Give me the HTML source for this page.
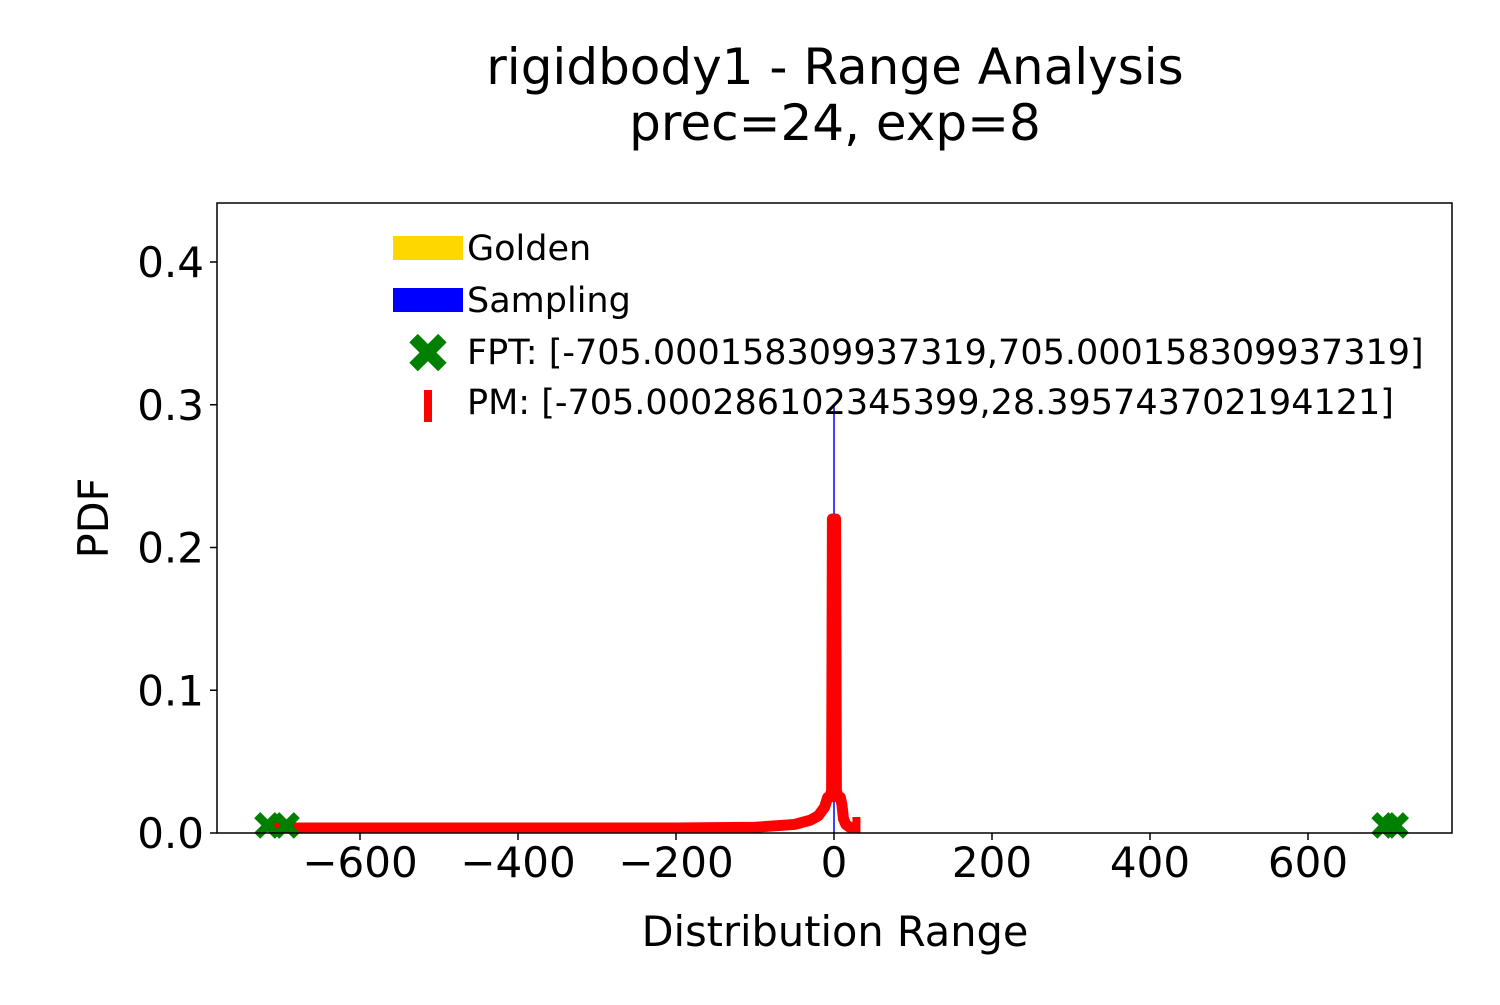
<!DOCTYPE html>
<html><head><meta charset="utf-8"><style>
body{margin:0;background:#fff}
svg text{font-family:"DejaVu Sans","Liberation Sans",sans-serif;fill:#000}
</style></head><body>
<svg width="1500" height="1000">
<text x="835" y="84" font-size="50" text-anchor="middle">rigidbody1 - Range Analysis</text>
<text x="835" y="140" font-size="50" text-anchor="middle">prec=24, exp=8</text>
<g id="plot"></g>
<rect x="217" y="203" width="1235" height="630" fill="none" stroke="#000" stroke-width="1.5"/>
<g id="axes"></g>
<text x="835" y="946" font-size="41.5" text-anchor="middle">Distribution Range</text>
<text transform="translate(108,518) rotate(-90)" font-size="41.5" text-anchor="middle">PDF</text>
<g>
<rect x="393" y="236" width="70" height="24" fill="#ffd700"/>
<text x="467" y="260" font-size="35">Golden</text>
<rect x="393" y="288" width="70" height="24" fill="#0000ff"/>
<text x="467" y="312" font-size="35">Sampling</text>
<text x="428" y="373" font-size="56" text-anchor="middle" style="fill:green">✖</text>
<text x="467" y="364" font-size="35">FPT: [-705.000158309937319,705.000158309937319]</text>
<rect x="424" y="390" width="8" height="32" fill="red"/>
<text x="467" y="414" font-size="35">PM: [-705.000286102345399,28.395743702194121]</text>
</g>
</svg>
<script>
const xTicks=[-600,-400,-200,0,200,400,600];
const yTicks=[0.0,0.1,0.2,0.3,0.4];
const pmX=[-705,-600,-400,-200,-100,-50,-30,-20,-12,-8,-5,-3,-2,-1,0,1,2,3,5,8,10,12,15,20,28];
const pmY=[0.002,0.002,0.0025,0.003,0.004,0.006,0.009,0.012,0.018,0.025,0.025,0.03,0.22,0.22,0.22,0.22,0.22,0.03,0.025,0.025,0.02,0.01,0.006,0.004,0.003];
const samplingPeakX=[0];
const samplingPeakY=[0.3];
const fptX=[-717,-693,697,711];
const fptY=[0.005,0.005,0.005,0.005];
const pmRangeX=[-705,28.4];
const ns="http://www.w3.org/2000/svg";
function sx(v){return 834+v*0.79;}
function sy(v){return 833-v*1427.5;}
const plot=document.getElementById('plot'),axes=document.getElementById('axes');
function mk(t,a,p){const e=document.createElementNS(ns,t);for(const k in a)e.setAttribute(k,a[k]);p.appendChild(e);return e;}
xTicks.forEach(v=>{
 const l=mk('line',{x1:sx(v),x2:sx(v),y1:833,y2:840,stroke:'#000','stroke-width':1.5},axes);
 
 
 const t=mk('text',{x:sx(v),y:877,'font-size':42,'text-anchor':'middle'},axes);
 t.textContent=(v<0?'\u2212'+(-v):v);
 
 
});
yTicks.forEach(v=>{
 const l=mk('line',{x1:210,x2:217,y1:sy(v),y2:sy(v),stroke:'#000','stroke-width':1.5},axes);
 
 
 const t=mk('text',{x:204,y:sy(v)+15,'font-size':42,'text-anchor':'end'},axes);
 t.textContent=v.toFixed(1);
 
 
});
samplingPeakX.forEach((x,i)=>{
 const l=mk('line',{x1:sx(x),x2:sx(x),y1:sy(0),y2:sy(samplingPeakY[i]),stroke:'#0000ff','stroke-width':1.5},plot);
 
 
});
const pts=pmX.map((x,i)=>sx(x)+','+Math.min(sy(pmY[i]),828)).join(' ');
const pl=mk('polyline',{points:pts,fill:'none',stroke:'red','stroke-width':11,'stroke-linejoin':'round','stroke-linecap':'butt'},plot);


pmRangeX.forEach(x=>{
 const r=mk('rect',{x:sx(x)-4,y:817,width:8,height:16,fill:'red'},plot);
 
 
});
fptX.forEach((x,i)=>{
 const t=mk('text',{x:sx(x),y:sy(fptY[i])+14,'font-size':40,'text-anchor':'middle',style:'fill:green'},plot);
 t.textContent='\u2716';
 
 
});
</script>
</body></html>
